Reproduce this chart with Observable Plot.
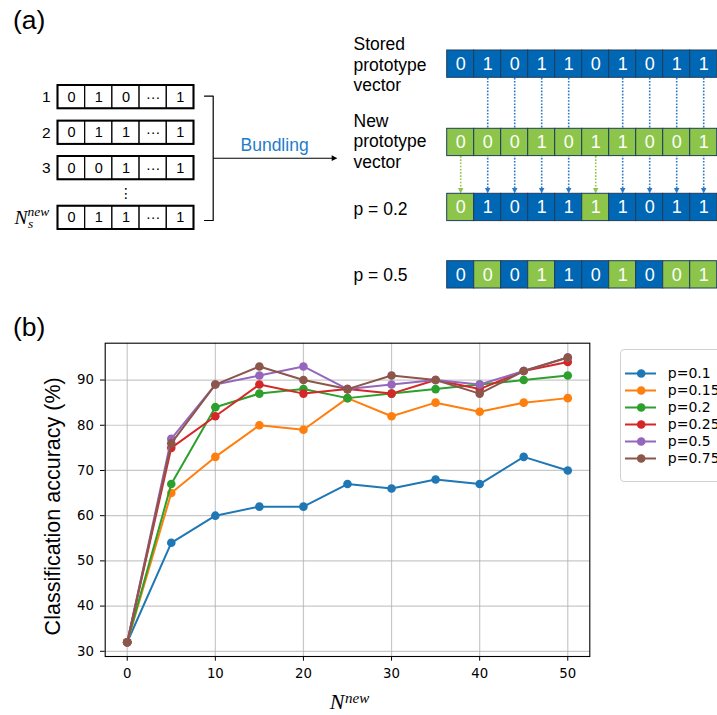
<!DOCTYPE html>
<html><head><meta charset="utf-8">
<script src="https://cdn.jsdelivr.net/npm/d3@7"></script>
<script src="https://cdn.jsdelivr.net/npm/@observablehq/plot@0.6"></script>
<style>
body{margin:0;background:#fff;}
#fig{position:relative;width:717px;height:715px;overflow:hidden;background:#fff;}
#fig svg{display:block;}
#legend{position:absolute;left:620px;top:349px;width:110px;height:131px;border:1px solid #d2d2d2;border-radius:4px;background:#fff;overflow:hidden;}
</style></head><body><div id="fig"></div>
<script>
// ---------- data: panel (a) ----------
const inputRowLabels = ["1", "2", "3"];
const inputVectors = [
  ["0", "1", "0", "···", "1"],
  ["0", "1", "1", "···", "1"],
  ["0", "0", "1", "···", "1"],
  ["0", "1", "1", "···", "1"]
];
const storedBits = [0, 1, 0, 1, 1, 0, 1, 0, 1, 1];
const newBits    = [0, 0, 0, 1, 0, 1, 1, 0, 0, 1];
const p02FromNew = [1, 0, 0, 0, 0, 1, 0, 0, 0, 0];
const p05FromNew = [0, 1, 0, 1, 0, 0, 1, 0, 1, 1];
const storedLabel = ["Stored", "prototype", "vector"];
const newLabel = ["New", "prototype", "vector"];
const pRowLabels = ["p = 0.2", "p = 0.5"];
const bundlingLabel = "Bundling";

// ---------- data: panel (b) ----------
const N_new = [0, 5, 10, 15, 20, 25, 30, 35, 40, 45, 50];
const seriesLabels = ["p=0.1", "p=0.15", "p=0.2", "p=0.25", "p=0.5", "p=0.75"];
const acc_p010 = [32, 54, 60, 62, 62, 67, 66, 68, 67, 73, 70];
const acc_p015 = [32, 65, 73, 80, 79, 86, 82, 85, 83, 85, 86];
const acc_p020 = [32, 67, 84, 87, 88, 86, 87, 88, 89, 90, 91];
const acc_p025 = [32, 75, 82, 89, 87, 88, 87, 90, 88, 92, 94];
const acc_p050 = [32, 77, 89, 91, 93, 88, 89, 90, 89, 92, 95];
const acc_p075 = [32, 76, 89, 93, 90, 88, 91, 90, 87, 92, 95];
const seriesColors = ["#1f77b4", "#ff7f0e", "#2ca02c", "#d62728", "#9467bd", "#8c564b"];
const xTicks = [0, 10, 20, 30, 40, 50];
const yTicks = [30, 40, 50, 60, 70, 80, 90];
const yLabel = "Classification accuracy (%)";

// ---------- styles ----------
const SANS = "Liberation Sans, Arial, Helvetica, sans-serif";
const DEJAVU = "DejaVu Sans, sans-serif";
const SERIF = "Liberation Serif, DejaVu Serif, serif";
const BLUE = "#0067b5", GREEN = "#8dc54b", EDGE = "#1e3d5e";
const ARROW_BLUE = "#2a78c8", ARROW_GREEN = "#8dc54b";

const triDown = {draw(ctx, size) { const s = Math.sqrt(size); ctx.moveTo(-s/2, -s/2); ctx.lineTo(s/2, -s/2); ctx.lineTo(0, s/2); ctx.closePath(); }};
const triRight = {draw(ctx, size) { const s = Math.sqrt(size); ctx.moveTo(-s/2, -s/2); ctx.lineTo(s/2, 0); ctx.lineTo(-s/2, s/2); ctx.closePath(); }};

// ---------- layout of panel (a) ----------
const L0 = 57.5, LW = 27.2, LH = 23.3;
const leftTops = [85, 120.6, 156, 205.7];
const R0 = 446.7, RW = 27, RH = 27.3;
const rightTops = [50, 128.3, 193.3, 260.7];

const leftCells = [];
inputVectors.forEach((row, r) => row.forEach((v, c) =>
  leftCells.push({x1: L0 + c * LW, x2: L0 + (c + 1) * LW, y1: leftTops[r], y2: leftTops[r] + LH, v})));
const leftOuter = inputVectors.map((row, r) => ({x1: L0, x2: L0 + row.length * LW, y1: leftTops[r], y2: leftTops[r] + LH}));
const leftLabels = inputRowLabels.map((t, r) => ({t, y: leftTops[r] + LH / 2}));

const rightRows = [
  {bits: storedBits, fromNew: storedBits.map(() => 0)},
  {bits: newBits, fromNew: newBits.map(() => 1)},
  {bits: storedBits.map((b, i) => p02FromNew[i] ? newBits[i] : b), fromNew: p02FromNew},
  {bits: storedBits.map((b, i) => p05FromNew[i] ? newBits[i] : b), fromNew: p05FromNew}
];
const rightCells = [];
rightRows.forEach((row, r) => row.bits.forEach((b, c) =>
  rightCells.push({x1: R0 + c * RW, x2: R0 + (c + 1) * RW, y1: rightTops[r], y2: rightTops[r] + RH, v: b, g: row.fromNew[c]})));

const links = p02FromNew.map((g, c) => ({
  x: R0 + (c + 0.5) * RW,
  y1: g ? rightTops[1] + RH : rightTops[0] + RH,
  y2: rightTops[2] - 3,
  color: g ? ARROW_GREEN : ARROW_BLUE
}));

const textLines = [
  ...storedLabel.map((t, i) => ({t, y: 49.3 + i * 20.7})),
  ...newLabel.map((t, i) => ({t, y: 126 + i * 20.7})),
  {t: pRowLabels[0], y: 214},
  {t: pRowLabels[1], y: 280.7}
];

const bracket = [[204, 95.7], [212.7, 95.7], [212.7, 220], [204, 220]];

const plotA = Plot.plot({
  width: 717, height: 300, margin: 0,
  x: {type: "linear", domain: [0, 717], range: [0, 717], axis: null},
  y: {type: "linear", domain: [0, 300], range: [0, 300], axis: null},
  color: {type: "identity"},
  style: {fontFamily: SANS, background: "white", overflow: "visible", color: "black"},
  marks: [
    Plot.text(["(a)"], {x: 12.5, y: 28, text: d => d, textAnchor: "start", lineAnchor: "bottom", fontSize: 26.5, fill: "black"}),
    // left input vectors
    Plot.text(leftLabels, {x: 50, y: "y", text: "t", textAnchor: "end", fontSize: 15.5, fill: "black"}),
    Plot.text(["N"], {x: 27, y: 223, text: d => d, textAnchor: "end", lineAnchor: "bottom", fontSize: 19.5, fontStyle: "italic", fontFamily: SERIF, fill: "black"}),
    Plot.text(["new"], {x: 27, y: 215, text: d => d, textAnchor: "start", lineAnchor: "bottom", fontSize: 13.5, fontStyle: "italic", fontFamily: SERIF, fill: "black"}),
    Plot.text(["s"], {x: 27.5, y: 227, text: d => d, textAnchor: "start", lineAnchor: "bottom", fontSize: 13.5, fontStyle: "italic", fontFamily: SERIF, fill: "black"}),
    Plot.rect(leftCells, {x1: "x1", x2: "x2", y1: "y1", y2: "y2", fill: "white", stroke: "black", strokeWidth: 1.2}),
    Plot.rect(leftOuter, {x1: "x1", x2: "x2", y1: "y1", y2: "y2", fill: "none", stroke: "black", strokeWidth: 2}),
    Plot.text(leftCells, {x: d => (d.x1 + d.x2) / 2, y: d => (d.y1 + d.y2) / 2, text: "v", fontSize: 14.5, fill: "black"}),
    Plot.text(["⋮"], {x: L0 + 2.5 * LW, y: 193.5, text: d => d, fontSize: 14, fontFamily: DEJAVU, fill: "black"}),
    Plot.line(bracket, {stroke: "black", strokeWidth: 1.2}),
    Plot.link([{x1: 212.7, x2: 333, y: 157.7}], {x1: "x1", x2: "x2", y1: "y", y2: "y", stroke: "black", strokeWidth: 1.1}),
    Plot.dot([{x: 334, y: 157.7}], {x: "x", y: "y", symbol: triRight, r: 3.2, fill: "black", stroke: "none"}),
    Plot.text([bundlingLabel], {x: 240, y: 150.7, text: d => d, textAnchor: "start", lineAnchor: "bottom", fontSize: 17.5, fill: "#1f7ccc"}),
    // right side labels
    Plot.text(textLines, {x: 353, y: "y", text: "t", textAnchor: "start", lineAnchor: "bottom", fontSize: 17.5, fill: "black"}),
    // dotted arrows
    Plot.link(links, {x1: "x", x2: "x", y1: "y1", y2: "y2", stroke: "color", strokeWidth: 1.6, strokeDasharray: "1.6,1.6"}),
    Plot.dot(links, {x: "x", y: d => rightTops[2] - 3, symbol: triDown, r: 3.1, fill: "color", stroke: "none"}),
    // right cells
    Plot.rect(rightCells, {x1: "x1", x2: "x2", y1: "y1", y2: "y2", fill: d => d.g ? GREEN : BLUE, stroke: EDGE, strokeWidth: 1}),
    Plot.text(rightCells, {x: d => (d.x1 + d.x2) / 2, y: d => (d.y1 + d.y2) / 2, text: d => String(d.v), fontSize: 18, fill: "white"})
  ]
});

// ---------- panel (b) ----------
const seriesValues = [acc_p010, acc_p015, acc_p020, acc_p025, acc_p050, acc_p075];
const seriesMarks = [];
seriesValues.forEach((vals, k) => {
  const rows = N_new.map((n, i) => ({n, acc: vals[i]}));
  seriesMarks.push(Plot.line(rows, {x: "n", y: "acc", stroke: seriesColors[k], strokeWidth: 2}));
  seriesMarks.push(Plot.dot(rows, {x: "n", y: "acc", fill: seriesColors[k], r: 4.3, stroke: "none"}));
});

const plotB = Plot.plot({
  width: 717, height: 415,
  marginLeft: 104.7, marginRight: 127.7, marginTop: 42.7, marginBottom: 59,
  x: {domain: [-2.5, 52.5]},
  y: {domain: [28.85, 98.15]},
  style: {fontFamily: DEJAVU, fontSize: "13.3px", background: "white", overflow: "visible", color: "black"},
  marks: [
    Plot.gridX({ticks: xTicks, stroke: "#b0b0b0", strokeOpacity: 0.7, strokeWidth: 1.2}),
    Plot.gridY({ticks: yTicks, stroke: "#b0b0b0", strokeOpacity: 0.7, strokeWidth: 1.2}),
    ...seriesMarks,
    Plot.frame({stroke: "black", strokeWidth: 1.1}),
    Plot.axisX({ticks: xTicks, tickSize: 4.7, tickPadding: 7.5, label: null, fontSize: 13.3}),
    Plot.axisY({ticks: yTicks, tickSize: 4.7, tickPadding: 6.5, label: null, fontSize: 13.3}),
    Plot.text([yLabel], {frameAnchor: "left", textAnchor: "middle", rotate: -90, dx: -52.2, dy: 6.5, text: d => d, fontSize: 21.5, fontFamily: SANS, fill: "black"}),
    Plot.text(["N"], {frameAnchor: "bottom", dx: -3, dy: 52, text: d => d, textAnchor: "end", lineAnchor: "bottom", fontSize: 22, fontStyle: "italic", fontFamily: SERIF, fill: "black"}),
    Plot.text(["new"], {frameAnchor: "bottom", dx: -2.5, dy: 46, text: d => d, textAnchor: "start", lineAnchor: "bottom", fontSize: 15, fontStyle: "italic", fontFamily: SERIF, fill: "black"}),
    Plot.text(["(b)"], {frameAnchor: "top-left", dx: 12.5 - 104.7, dy: 335 - 342.7, text: d => d, textAnchor: "start", lineAnchor: "bottom", fontSize: 26.5, fontFamily: SANS, fill: "black"})
  ]
});

// ---------- legend ----------
const legendPlot = Plot.plot({
  width: 110, height: 131, margin: 0,
  x: {type: "linear", domain: [0, 110], range: [0, 110], axis: null},
  y: {type: "point", domain: seriesLabels, range: [11.4, 11.4 + 5 * 21.5], axis: null},
  color: {type: "identity"},
  style: {fontFamily: DEJAVU, background: "transparent", overflow: "visible", color: "black"},
  marks: [
    Plot.ruleY(seriesLabels, {y: d => d, x1: 4, x2: 35, stroke: (d, i) => seriesColors[i], strokeWidth: 2}),
    Plot.dot(seriesLabels, {x: 19.7, y: d => d, fill: (d, i) => seriesColors[i], r: 4.3, stroke: "none"}),
    Plot.text(seriesLabels, {x: 46.3, y: d => d, text: d => d, textAnchor: "start", fontSize: 14, fill: "black"})
  ]
});

const fig = document.getElementById("fig");
fig.appendChild(plotA);
fig.appendChild(plotB);
const leg = document.createElement("div");
leg.id = "legend";
leg.appendChild(legendPlot);
fig.appendChild(leg);
</script></body></html>
